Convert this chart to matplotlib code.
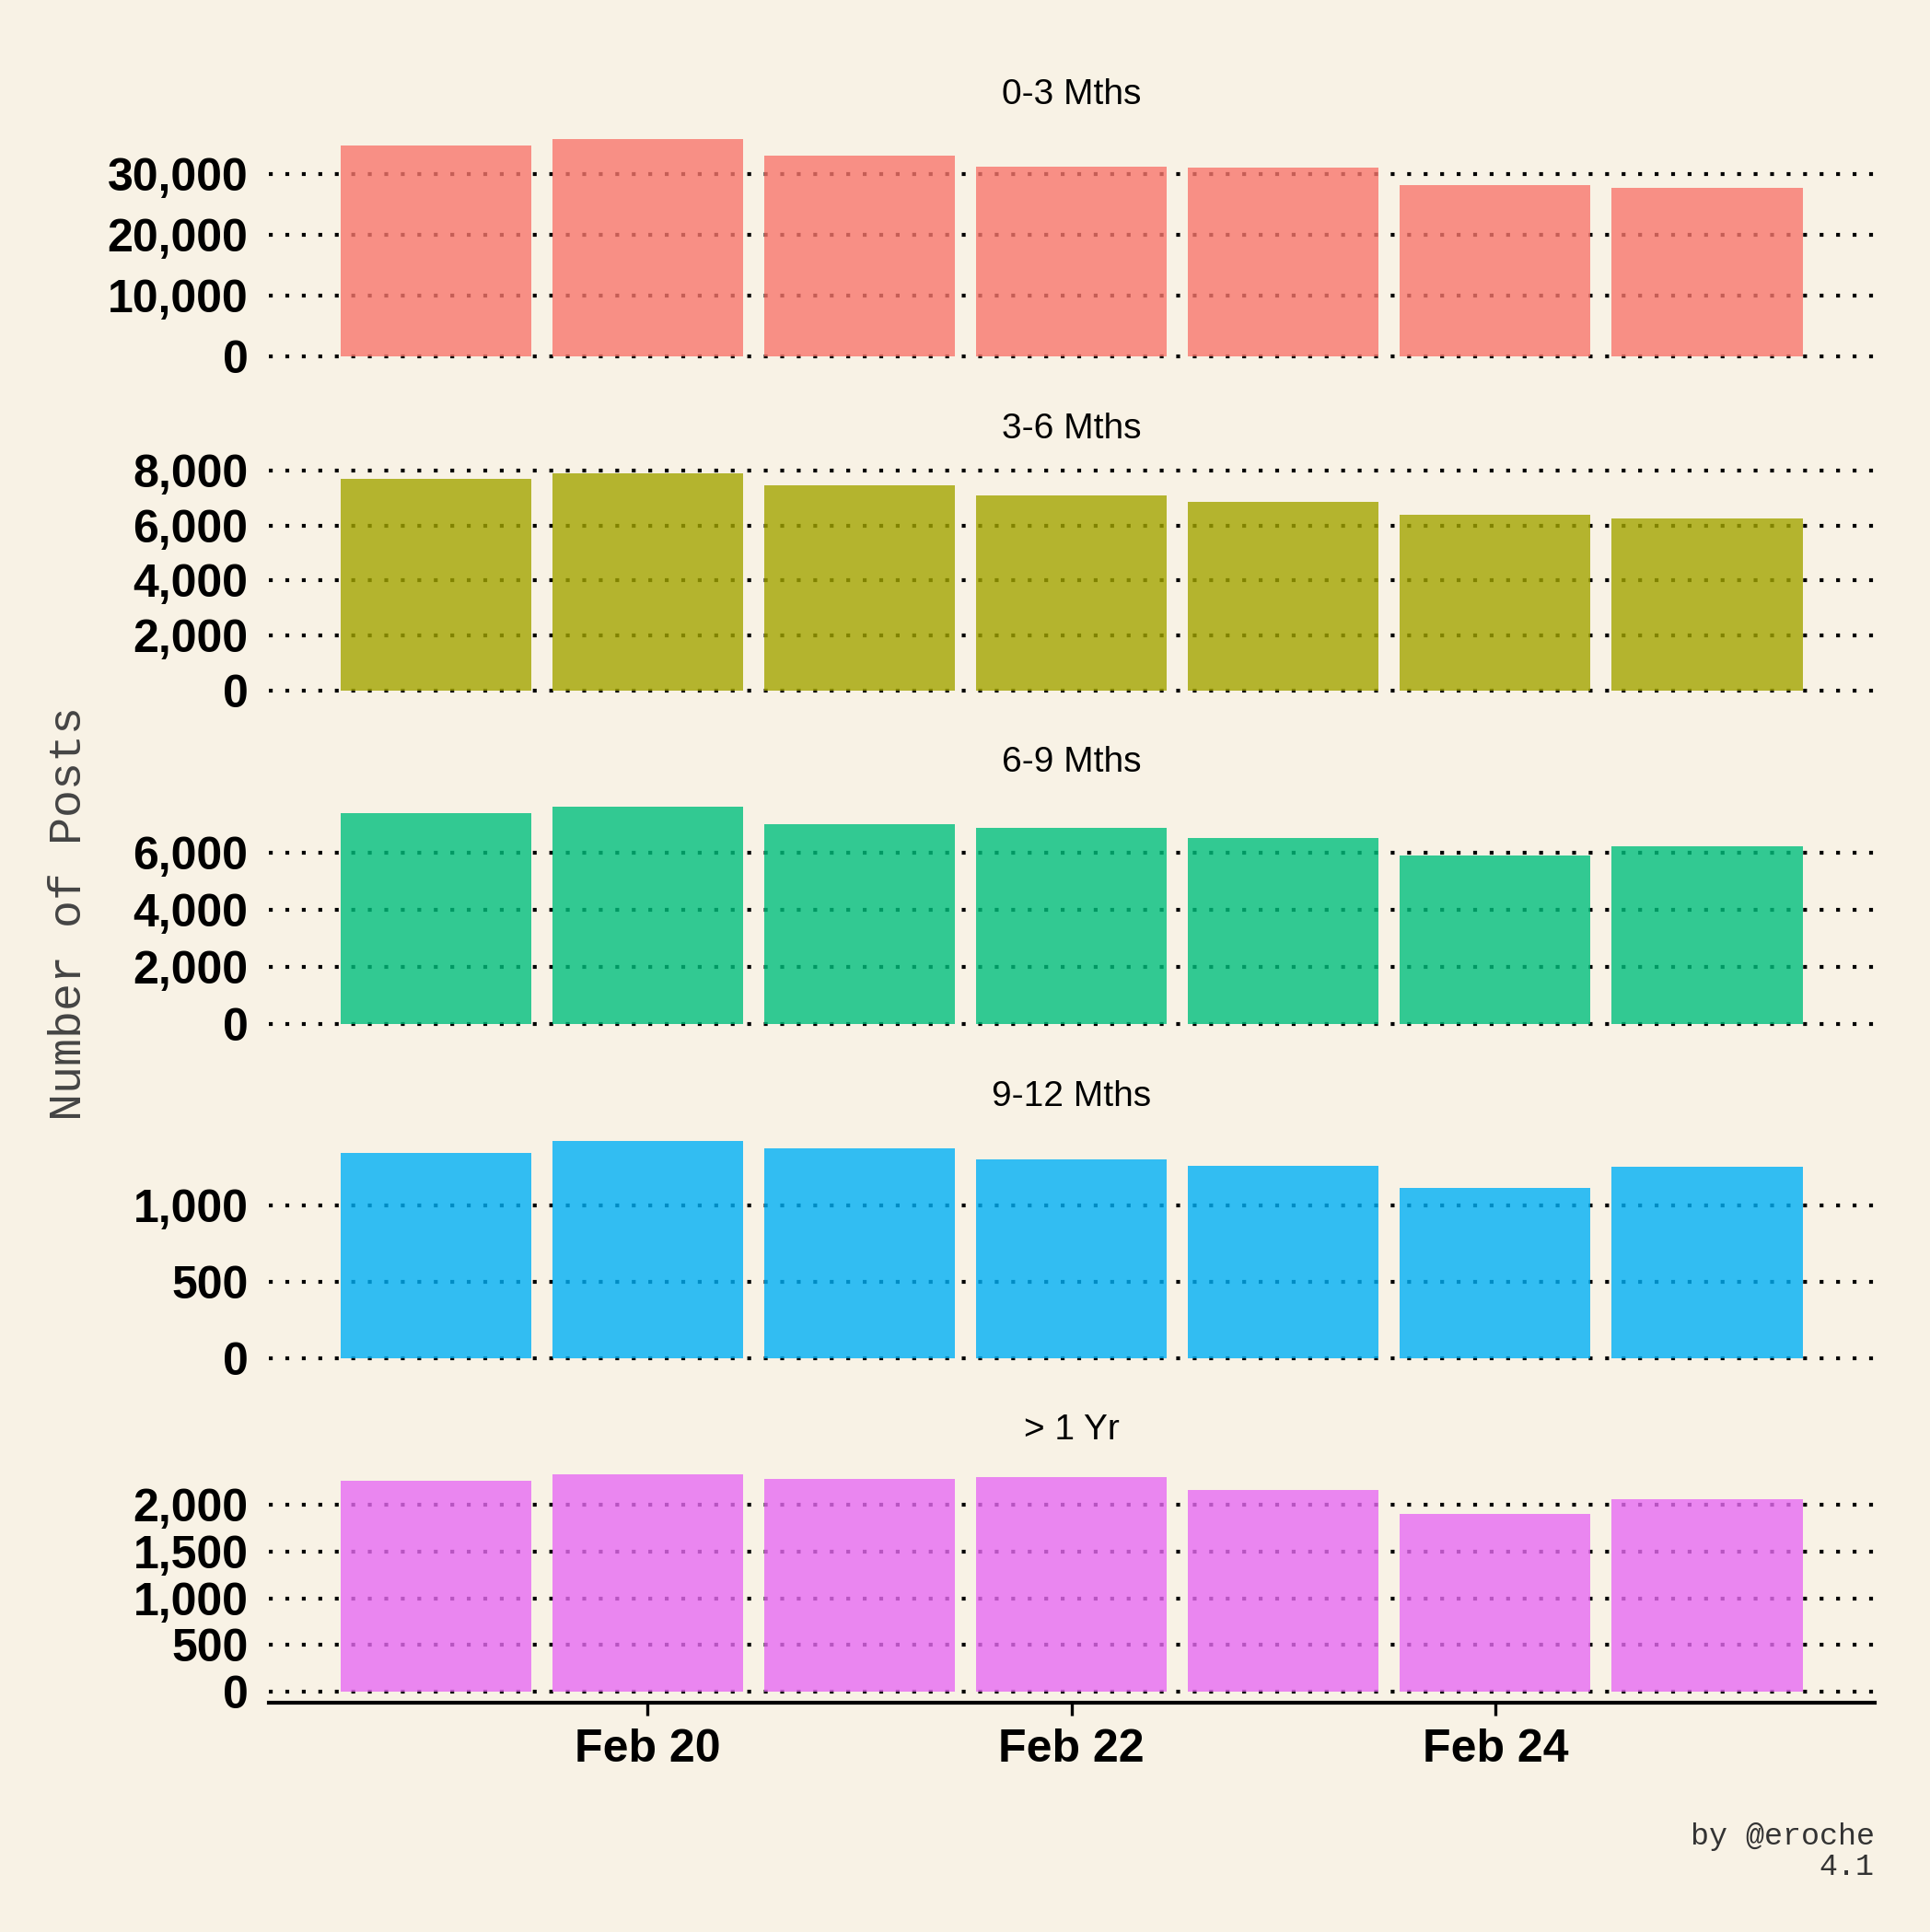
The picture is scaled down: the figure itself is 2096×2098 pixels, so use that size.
import datetime as dt
import matplotlib
matplotlib.use('Agg')
import matplotlib.pyplot as plt
import matplotlib.dates as mdates
from matplotlib.ticker import MultipleLocator, StrMethodFormatter

# posts per day, split by account age
dates = [dt.date(2023, 2, 19) + dt.timedelta(days=i) for i in range(7)]
groups = ['0-3 Mths', '3-6 Mths', '6-9 Mths', '9-12 Mths', '> 1 Yr']
posts_0_3 = [34660, 35680, 33040, 31220, 31010, 28180, 27770]
posts_3_6 = [7690, 7910, 7460, 7110, 6880, 6390, 6260]
posts_6_9 = [7380, 7600, 6990, 6860, 6520, 5910, 6220]
posts_9_12 = [1339, 1419, 1371, 1298, 1258, 1113, 1250]
posts_1yr = [2250, 2316, 2276, 2289, 2158, 1895, 2053]
series = [posts_0_3, posts_3_6, posts_6_9, posts_9_12, posts_1yr]
tick_steps = [10000, 2000, 2000, 500, 500]
colors = ['#F8766D', '#A3A500', '#00BF7D', '#00B0F6', '#E76BF3']

bg = '#F8F2E5'
plt.rcParams['font.family'] = ['Liberation Sans', 'DejaVu Sans']

fig = plt.figure(figsize=(10.48, 10.49), dpi=200, facecolor=bg)

left, width = 0.1391, 0.8322
height = 0.1237
bottom0 = 0.1186
step = 0.1728

for i, (name, vals, col, tstep) in enumerate(zip(groups, series, colors, tick_steps)):
    ax = fig.add_axes([left, bottom0 + (4 - i) * step, width, height])
    ax.set_facecolor(bg)
    ax.bar(dates, vals, width=0.9, color=col, alpha=0.8, zorder=2)
    top = max(vals)
    ax.set_ylim(-0.05 * top, 1.05 * top)
    ax.set_xlim(mdates.date2num(dates[0]) - 0.79, mdates.date2num(dates[-1]) + 0.79)
    ax.yaxis.set_major_locator(MultipleLocator(tstep))
    ax.yaxis.set_major_formatter(StrMethodFormatter('{x:,.0f}'))
    ax.grid(axis='y', color='black', linewidth=1.5, linestyle=(0, (1, 3.3)), zorder=1)
    ax.tick_params(axis='y', length=0, pad=8, labelsize=18)
    for lab in ax.get_yticklabels():
        lab.set_fontweight('bold')
    for s in ['top', 'right', 'left', 'bottom']:
        ax.spines[s].set_visible(False)
    ax.text(0.5, 1.14, name, transform=ax.transAxes, ha='center', va='center', fontsize=14)
    if i == 4:
        ax.spines['bottom'].set_visible(True)
        ax.spines['bottom'].set_linewidth(1.5)
        ax.xaxis.set_major_locator(mdates.DayLocator(bymonthday=[20, 22, 24]))
        ax.xaxis.set_major_formatter(mdates.DateFormatter('%b %d'))
        ax.tick_params(axis='x', length=5, width=1.2, pad=5, labelsize=18)
        for lab in ax.get_xticklabels():
            lab.set_fontweight('bold')
    else:
        ax.set_xticks([])

fig.text(0.036, 0.527, 'Number of Posts', rotation=90, ha='center', va='center',
         fontsize=18, family=['Liberation Mono', 'DejaVu Sans Mono'], color='#444444')
fig.text(left + width, 0.0415, 'by @eroche\n4.1', ha='right', va='center', fontsize=12,
         family=['Liberation Mono', 'DejaVu Sans Mono'], color='#333333', linespacing=1.1)

fig.savefig('out.png', dpi=200, facecolor=bg)
